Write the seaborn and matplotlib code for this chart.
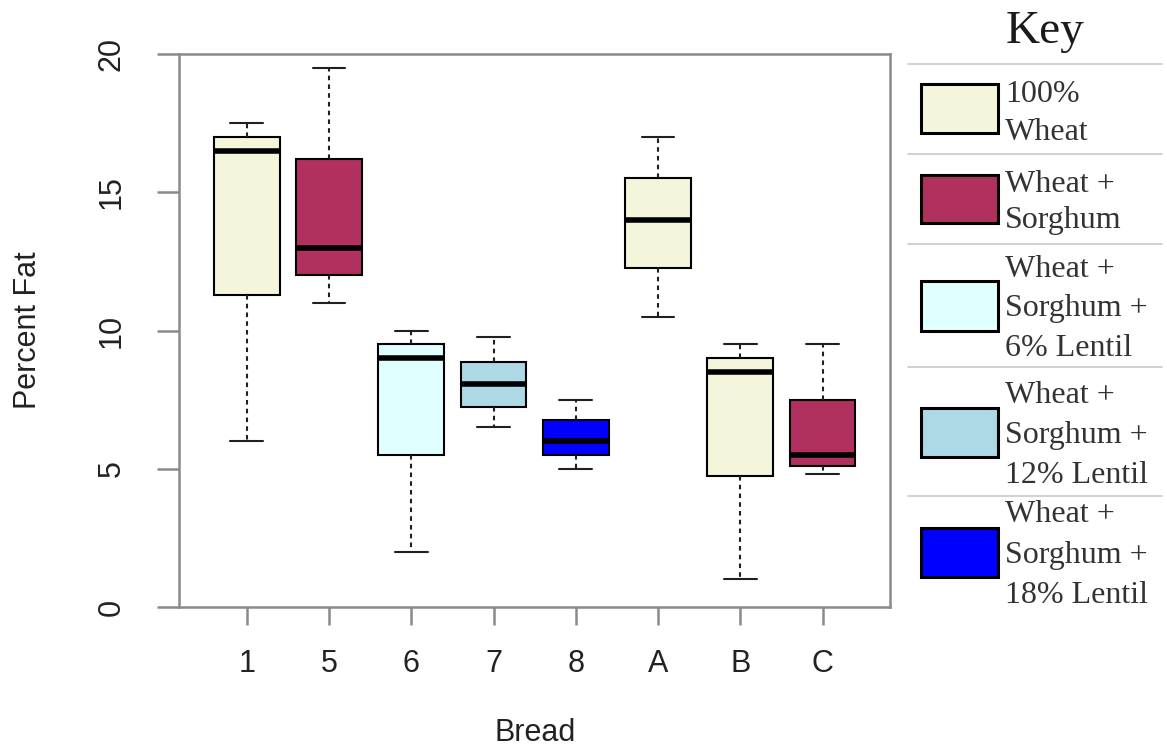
import numpy as np
import pandas as pd
import matplotlib
matplotlib.use("Agg")
import matplotlib.pyplot as plt
from matplotlib.patches import Rectangle
from matplotlib.lines import Line2D
from matplotlib.transforms import Affine2D
import seaborn as sns

# ---- data: five-number summaries of percent fat per bread ----
breads = ["1", "5", "6", "7", "8", "A", "B", "C"]
flour = ["100% Wheat", "Wheat + Sorghum", "Wheat + Sorghum + 6% Lentil",
         "Wheat + Sorghum + 12% Lentil", "Wheat + Sorghum + 18% Lentil",
         "100% Wheat", "100% Wheat", "Wheat + Sorghum"]
fat_min = [6.0, 11.0, 2.0, 6.5, 5.0, 10.5, 1.0, 4.8]
fat_q1 = [11.3, 12.0, 5.5, 7.25, 5.5, 12.25, 4.75, 5.1]
fat_med = [16.5, 13.0, 9.0, 8.05, 6.0, 14.0, 8.5, 5.5]
fat_q3 = [17.0, 16.2, 9.5, 8.85, 6.75, 15.5, 9.0, 7.5]
fat_max = [17.5, 19.5, 10.0, 9.75, 7.5, 17.0, 9.5, 9.5]

# key entries and fill colours
key_labels = ["100%\nWheat", "Wheat +\nSorghum", "Wheat +\nSorghum +\n6% Lentil",
              "Wheat +\nSorghum +\n12% Lentil", "Wheat +\nSorghum +\n18% Lentil"]
key_flours = ["100% Wheat", "Wheat + Sorghum", "Wheat + Sorghum + 6% Lentil",
              "Wheat + Sorghum + 12% Lentil", "Wheat + Sorghum + 18% Lentil"]
key_colors = ["#F5F5DC", "#B03060", "#E0FFFF", "#ADD8E6", "#0000FF"]

yticks = [0, 5, 10, 15, 20]

# long-form table: each bread contributes its five summary values
rows = []
for i, b in enumerate(breads):
    for v in (fat_min[i], fat_q1[i], fat_med[i], fat_q3[i], fat_max[i]):
        rows.append({"Bread": b, "Flour": flour[i], "Fat": v})
df = pd.DataFrame(rows)

flour_color = dict(zip(key_flours, key_colors))
palette = {b: flour_color[f] for b, f in zip(breads, flour)}

sns.set_style("white")
plt.rcParams["font.family"] = ["Liberation Sans", "DejaVu Sans"]

W, H = 1167, 750
fig = plt.figure(figsize=(W / 100, H / 100), dpi=100)
ax = fig.add_axes([179.3 / W, 1 - 607 / H, (890 - 179.3) / W, (607 - 54) / H])

sns.boxplot(
    data=df, x="Bread", y="Fat", hue="Bread", order=breads, hue_order=breads,
    palette=palette, legend=False, saturation=1, width=0.8, whis=(0, 100),
    showfliers=False, linecolor="black", linewidth=1.5, ax=ax,
    medianprops=dict(color="black", linewidth=4.0, solid_capstyle="butt"),
    whiskerprops=dict(color="#202020", linewidth=1.5, linestyle=(0, (2.2, 2.0))),
    capprops=dict(color="#202020", linewidth=1.5),
)

ax.set_xlim(-0.82, len(breads) - 1 + 0.82)
ax.set_ylim(0, 20)
ax.set_yticks(yticks)
ax.set_yticklabels([str(t) for t in yticks])

spine_col = "#8a8a8a"
for s in ax.spines.values():
    s.set_visible(True)
    s.set_color(spine_col)
    s.set_linewidth(1.8)

ax.tick_params(axis="y", length=16, width=1.8, color=spine_col, pad=22,
               labelsize=22, labelcolor="#222222", labelrotation=90, left=True)
ax.tick_params(axis="x", length=13, width=1.8, color=spine_col, pad=17,
               labelsize=22, labelcolor="#222222", bottom=True)
for lab in ax.get_yticklabels():
    lab.set_va("center")

ax.set_xlabel("Bread", fontsize=22, color="#222222")
ax.set_ylabel("Percent Fat", fontsize=22, color="#222222")
ax.xaxis.set_label_coords(0.5, (607 - 733) / 553)
ax.xaxis.label.set_va("center")
ax.yaxis.set_label_coords((28 - 179.3) / 710.7, 0.5)
ax.yaxis.label.set_va("center")
ax.grid(False)

# ---- key drawn in figure pixel coordinates ----
px = Affine2D().scale(1 / W, -1 / H).translate(0, 1) + fig.transFigure
serif = ["Liberation Serif", "DejaVu Serif"]

fig.text(1006, 43, "Key", transform=px, fontsize=34, family=serif,
         color="#1a1a1a", ha="left", va="baseline")

separators = [64, 154, 244, 367, 496]
for y in separators:
    fig.add_artist(Line2D([908, 1162], [y, y], transform=px,
                          color="#c8c8c8", linewidth=1.2))

swatch_y = [(84, 133), (175, 223), (281, 331), (408, 457), (528, 577)]
baselines = [[102, 140], [192, 228], [277, 316, 356], [403, 443, 483],
             [522, 563, 603]]
for lab, col, (y0, y1), bl in zip(key_labels, key_colors, swatch_y, baselines):
    fig.add_artist(Rectangle((921, y0), 77, y1 - y0, transform=px,
                             facecolor=col, edgecolor="black", linewidth=2.2))
    for line, yb in zip(lab.split("\n"), bl):
        fig.text(1005, yb, line, transform=px, fontsize=23, family=serif,
                 color="#333333", ha="left", va="baseline")

fig.savefig("out.png", dpi=100, facecolor="white")
